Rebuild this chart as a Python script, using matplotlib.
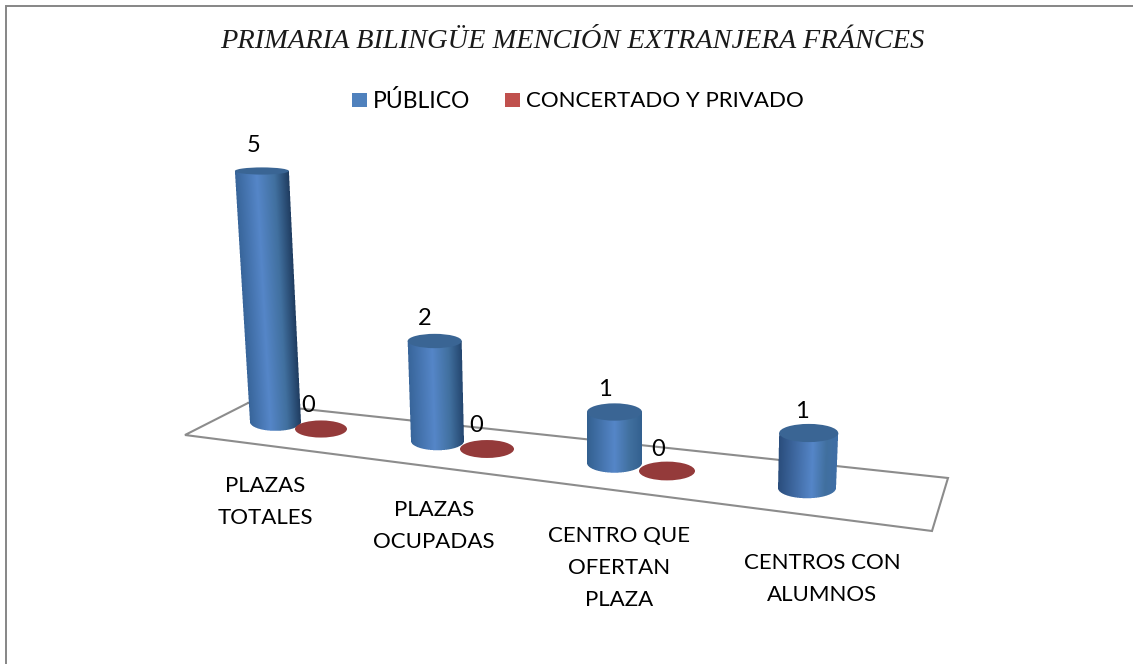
import numpy as np
import matplotlib
matplotlib.use("Agg")
import matplotlib.pyplot as plt
from matplotlib.colors import LinearSegmentedColormap
from matplotlib.patches import Ellipse, Rectangle

# ---- data ----
title = "PRIMARIA BILINGÜE MENCIÓN EXTRANJERA FRÁNCES"
categories = ["PLAZAS\nTOTALES", "PLAZAS\nOCUPADAS", "CENTRO QUE\nOFERTAN\nPLAZA", "CENTROS CON\nALUMNOS"]
series_names = ["PÚBLICO", "CONCERTADO Y PRIVADO"]
publico = [5, 2, 1, 1]
privado = [0, 0, 0, None]

# ---- layout ----
W, H = 1133, 664
floor_px = np.array([[248, 403], [948, 478], [932, 531], [185, 435]], float)
label_xy = [(265, 502), (434, 526), (619, 568), (822, 579)]
blue_base = [(275.5, 422), (437.5, 441), (614.5, 463), (807, 488)]
red_base = [(321, 429), (487, 449), (667, 471)]
unit_px = [50.2, 50, 51, 55]
r_bottom = [25.5, 26.5, 27.5, 29]
r_top = [27, 27, 27.5, 29.5]
r_red = [26, 27, 28]
blue_label_off = [(-8, -22), (-10, -15), (-10, -14), (-7, -12)]
red_label_off = [(-13, -23), (-11, -23), (-9, -22)]
shade_left = ["#38659a", "#38659a", "#33608f", "#2a4d7c"]
shade_peak = [0.40, 0.45, 0.50, 0.58]
shade_right = ["#1f3c60", "#24466f", "#33608f", "#3f6ea6"]
LEAN, LEAN_X0, DEPTH = 0.00016, 614, 0.021
SS = 4

fig = plt.figure(figsize=(W / 100, H / 100), dpi=100)
ax = fig.add_axes([0, 0, 1, 1])
ax.set_xlim(0, W)
ax.set_ylim(H, 0)
ax.set_autoscale_on(False)
ax.axis("off")

ax.plot([5.5, 5.5, W], [H, 5.5, 5.5], color="#868686", lw=1.4, solid_joinstyle="miter")
ax.plot(*np.vstack([floor_px, floor_px[:1]]).T, color="#8c8c8c", lw=1.5, zorder=1, solid_joinstyle="miter")


def cylinder(x, y, value, unit, a, at, cmap):
    h = value * unit
    xt, yt = x + h * (x - LEAN_X0) * LEAN, y - h
    bt, bb = DEPTH * yt, DEPTH * y
    x0 = int(min(xt - at, x - a)) - 2
    x1 = int(max(xt + at, x + a)) + 3
    y0 = int(yt) - 1
    y1 = int(y + bb) + 3
    xs = x0 + (np.arange((x1 - x0) * SS) + 0.5) / SS
    ys = y0 + (np.arange((y1 - y0) * SS) + 0.5) / SS
    X, Y = np.meshgrid(xs, ys)
    t = np.clip((Y - yt) / h, 0, 1)
    s = (X - (xt + (x - xt) * t)) / (at + (a - at) * t)
    mask = (np.abs(s) <= 1) & (Y >= yt) & (Y <= y + bb * np.sqrt(np.clip(1 - s * s, 0, 1)))
    rgb = cmap((np.clip(s, -1, 1) + 1) / 2)[..., :3] * mask[..., None]
    ny, nx = y1 - y0, x1 - x0
    rgb = rgb.reshape(ny, SS, nx, SS, 3).sum(axis=(1, 3))
    cover = mask.reshape(ny, SS, nx, SS).sum(axis=(1, 3))
    rgba = np.dstack([rgb / np.maximum(cover, 1)[..., None], cover / SS ** 2])
    ax.imshow(rgba, extent=(x0, x1, y1, y0), origin="upper", interpolation="nearest", aspect="auto", zorder=3)
    ax.add_patch(Ellipse((xt, yt), 2 * at, 2 * bt, fc="#3a6594", ec="none", zorder=4))
    return xt, yt - bt


for i, v in enumerate(publico):
    xb, yb = blue_base[i]
    p = shade_peak[i]
    cm = LinearSegmentedColormap.from_list(
        f"cyl{i}", [(0, shade_left[i]), (p, "#5586c8"), (p + (1 - p) * 0.55, "#41709f"), (1, shade_right[i])])
    xt, ytop = cylinder(xb, yb, v, unit_px[i], r_bottom[i], r_top[i], cm)
    dx, dy = blue_label_off[i]
    ax.text(xt + dx, ytop + dy, str(v), family="Lato", fontsize=17, ha="center", va="center", zorder=6)

for i, v in enumerate(privado):
    if v is None:
        continue
    xb, yb = red_base[i]
    ax.add_patch(Ellipse((xb, yb), 2 * r_red[i], 2 * DEPTH * yb * 0.95, fc="#943a3a", ec="none", zorder=3))
    dx, dy = red_label_off[i]
    ax.text(xb + dx, yb + dy, str(v), family="Lato", fontsize=17, ha="center", va="center", zorder=6)

for lab, (x, y) in zip(categories, label_xy):
    ax.text(x, y, lab, family="Lato", fontsize=16, ha="center", va="center", linespacing=1.72, color="black")

ax.text(572, 41, title, family="Liberation Serif", style="italic", fontsize=20.4, ha="center", va="center", color="#1a1a1a")

ax.add_patch(Rectangle((352, 93), 15, 14, fc="#4f81bd", ec="none"))
ax.text(373, 101, series_names[0], family="Lato", fontsize=16.5, ha="left", va="center")
ax.add_patch(Rectangle((505, 93), 15, 14, fc="#c0504d", ec="none"))
ax.text(526, 101, series_names[1], family="Lato", fontsize=16, ha="left", va="center")

fig.savefig("out.png", dpi=100, facecolor="white")
